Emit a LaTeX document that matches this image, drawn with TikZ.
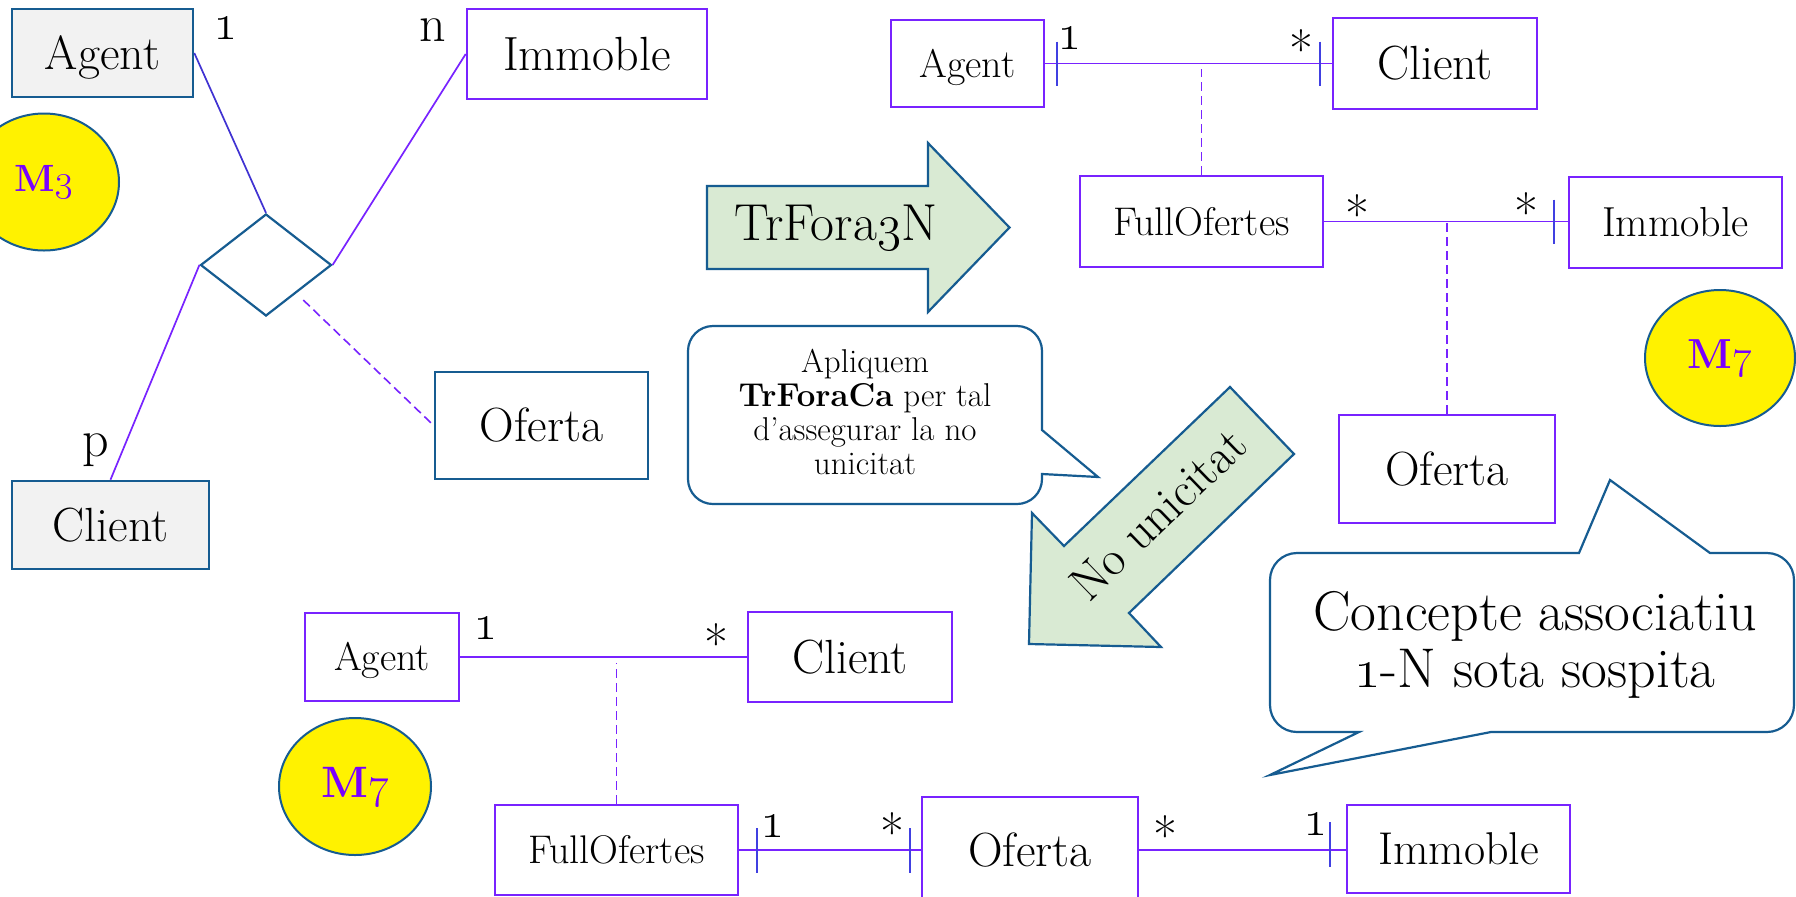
\RequirePackage{fix-cm}
\documentclass[tikz,border=0pt]{standalone}
\usetikzlibrary{shapes.geometric,calc}
\definecolor{dblue}{RGB}{22,92,145}
\definecolor{purp}{RGB}{120,35,255}
\definecolor{tickb}{RGB}{64,64,225}
\definecolor{lineb}{RGB}{64,50,210}
\definecolor{lgreen}{RGB}{217,234,211}
\definecolor{gfillc}{RGB}{242,242,242}
\definecolor{mtext}{RGB}{120,0,255}
\begin{document}
\begin{tikzpicture}[x=0.5pt,y=-0.5pt,
  ent/.style={draw, line width=1.3pt, inner sep=0pt, text depth=0pt, fill=white},
  dbb/.style={ent, draw=dblue},
  pbb/.style={ent, draw=purp},
  gfill/.style={fill=gfillc},
  rect/.style args={#1/#2/#3/#4}{minimum width={(#3-#1)*0.5pt}, minimum height={(#4-#2)*0.5pt}},
  t24/.style={font=\fontsize{24}{28}\selectfont, text height=16.4pt},
  t23/.style={font=\fontsize{23}{27}\selectfont, text height=15.7pt},
  t21/.style={font=\fontsize{21}{25}\selectfont, text height=14.3pt},
  t20/.style={font=\fontsize{20}{24}\selectfont, text height=13.7pt},
  con/.style={draw=purp, line width=0.85pt},
  tick/.style={draw=tickb, line width=0.9pt},
  dsh/.style={draw=purp, line width=0.8pt, dash pattern=on 4.5pt off 2.5pt},
  lab/.style={font=\fontsize{26}{30}\selectfont, inner sep=0pt},
  astl/.style={lab, yshift=-4.2pt},
  mball/.style={ellipse, draw=dblue, line width=1pt, fill=yellow, text=mtext, inner sep=0pt},
  barrow/.style={draw=dblue, fill=lgreen, line width=1.1pt, line join=miter},
  callout/.style={draw=dblue, fill=white, line width=1.1pt},
]
\useasboundingbox (0,0) rectangle (1796,896);
\clip (0,0) rectangle (1796,896);
\fill[white] (0,0) rectangle (1796,896);

% ---------- top-left (M3) ----------
\node[dbb,gfill,t24,rect=12/9/193/97] (A1) at (102.5,53) {Agent};
\node[pbb,t24,rect=467/9/707/99] (I1) at (587,54) {Immoble};
\node[dbb,gfill,t24,rect=12/481/209/569] (C1) at (110.5,525) {Client};
\node[dbb,t24,rect=435/372/648/479] (O1) at (541.5,425.5) {Oferta};
\node[diamond, draw=dblue, line width=1.1pt, fill=white, inner sep=0pt,
      minimum width=65.5pt, minimum height=51pt] (D) at (266,265) {};
\node[mball, minimum width=75pt, minimum height=68.5pt,
      font=\bfseries\fontsize{19}{21}\selectfont] (M3) at (44,182) {M\oldstylenums{3}};

\draw[con, draw=lineb] (A1.east) -- (D.north);
\draw[con] (I1.west) -- (D.east);
\draw[con] (C1.north) -- (D.west);
\draw[dsh] ($(D.east)!0.5!(D.south)+(4,9)$) -- (O1.west);

\node[lab] (L1) at (226,28) {\oldstylenums{1}};
\node[lab] (L2) at (433,30) {n};
\node[lab] (L3) at (95.5,450) {p};

% ---------- TrFora3N arrow ----------
\draw[barrow] (707,186) -- (928,186) -- (928,143) -- (1009.5,227.5) -- (928,312) -- (928,269) -- (707,269) -- cycle;
\node[anchor=base, inner sep=0pt, font=\fontsize{26}{30}\selectfont] (TR) at (836,240) {TrFora\oldstylenums{3}N};

% ---------- callout Apliquem ----------
\draw[callout] (713,326) -- (1017,326) arc[start angle=-90, end angle=0, radius=25]
  -- (1042,430) -- (1098,477) -- (1042,474) -- (1042,479)
  arc[start angle=0, end angle=90, radius=25] -- (713,504)
  arc[start angle=90, end angle=180, radius=25] -- (688,351)
  arc[start angle=180, end angle=270, radius=25] -- cycle;
\node[align=center, inner sep=0pt, font=\fontsize{16.5}{17}\selectfont] (AP) at (865,412)
  {Apliquem\\\textbf{TrForaCa} per tal\\d’assegurar la no\\unicitat};

% ---------- top-right (M7) ----------
\node[pbb,t20,rect=891/20/1044/107] (A2) at (967.5,63.5) {Agent};
\node[pbb,t24,rect=1333/18/1537/109] (C2) at (1435,63.5) {Client};
\node[pbb,t20,rect=1080/176/1323/267] (FO2) at (1201.5,221.5) {FullOfertes};
\node[pbb,t21,rect=1569/177/1782/268] (I2) at (1675.5,222.5) {Immoble};
\node[pbb,t24,rect=1339/415/1555/523] (O2) at (1447,469) {Oferta};
\node[mball, minimum width=75pt, minimum height=68pt,
      font=\bfseries\fontsize{21}{23}\selectfont] (M7a) at (1720,358) {M\oldstylenums{7}};

\draw[con] (A2.east) -- (C2.west);
\draw[tick] ($(A2.east)+(12,-22)$) -- ($(A2.east)+(12,22)$);
\draw[tick] ($(C2.west)+(-12,-22)$) -- ($(C2.west)+(-12,22)$);
\draw[dsh] (FO2.north) -- ([yshift=-2.5pt]FO2.north |- A2.east);
\draw[con] (FO2.east) -- (FO2.east -| I2.west);
\draw[tick] ($(FO2.east -| I2.west)+(-14,-22)$) -- ($(FO2.east -| I2.west)+(-14,22)$);
\draw[dsh] (O2.north) -- (O2.north |- FO2.east);

\node[lab] (L4) at (1070,38) {\oldstylenums{1}};
\node[astl] (L5) at (1301,40.5) {*};
\node[astl] (L6) at (1357,206) {*};
\node[astl] (L7) at (1526,204) {*};

% ---------- No unicitat arrow ----------
\draw[barrow] (1230,387) -- (1294,454) -- (1129,613) -- (1161,647) -- (1029,644) -- (1032,513) -- (1064,546) -- cycle;
\node[rotate=44, inner sep=0pt, font=\fontsize{24.5}{28}\selectfont] (NU) at (1158,514) {No unicitat};

% ---------- callout Concepte ----------
\draw[callout] (1297,553) -- (1579,553) -- (1610,480) -- (1710,553) -- (1767,553)
  arc[start angle=-90, end angle=0, radius=27] -- (1794,705)
  arc[start angle=0, end angle=90, radius=27] -- (1491,732) -- (1270,775) -- (1359,732) -- (1297,732)
  arc[start angle=90, end angle=180, radius=27] -- (1270,580)
  arc[start angle=180, end angle=270, radius=27] -- cycle;
\node[align=center, inner sep=0pt, font=\fontsize{28}{28.6}\selectfont] (CA) at (1535,645)
  {Concepte associatiu\\\oldstylenums{1}-N sota sospita};

% ---------- bottom (M7) ----------
\node[pbb,t20,rect=305/613/459/701] (A3) at (382,657) {Agent};
\node[pbb,t24,rect=748/612/952/702] (C3) at (850,657) {Client};
\node[pbb,t20,rect=495/805/738/895] (FO3) at (616.5,850) {FullOfertes};
\node[pbb,t24,rect=922/797/1138/903] (O3) at (1030,850) {Oferta};
\node[pbb,t23,rect=1347/805/1570/893] (I3) at (1458.5,849) {Immoble};
\node[mball, minimum width=76pt, minimum height=68.5pt,
      font=\bfseries\fontsize{22}{24}\selectfont] (M7b) at (355,786.5) {M\oldstylenums{7}};

\draw[con] (A3.east) -- (C3.west);
\draw[dsh] (FO3.north) -- ([yshift=-3pt]FO3.north |- A3.east);
\draw[con] (FO3.east) -- (O3.west);
\draw[tick] ($(FO3.east)+(18,-22)$) -- ($(FO3.east)+(18,23)$);
\draw[tick] ($(O3.west)+(-11,-22)$) -- ($(O3.west)+(-11,23)$);
\draw[con] (O3.east) -- (O3.east -| I3.west);
\draw[tick] ($(O3.east -| I3.west)+(-16,-28)$) -- ($(O3.east -| I3.west)+(-16,17)$);

\node[lab] (L8) at (486,628) {\oldstylenums{1}};
\node[astl] (L9) at (716,634.7) {*};
\node[lab] (L10) at (773,826) {\oldstylenums{1}};
\node[astl] (L11) at (892.6,824) {*};
\node[astl] (L12) at (1165,826.7) {*};
\node[lab] (L13) at (1316,824) {\oldstylenums{1}};
\end{tikzpicture}
\end{document}
